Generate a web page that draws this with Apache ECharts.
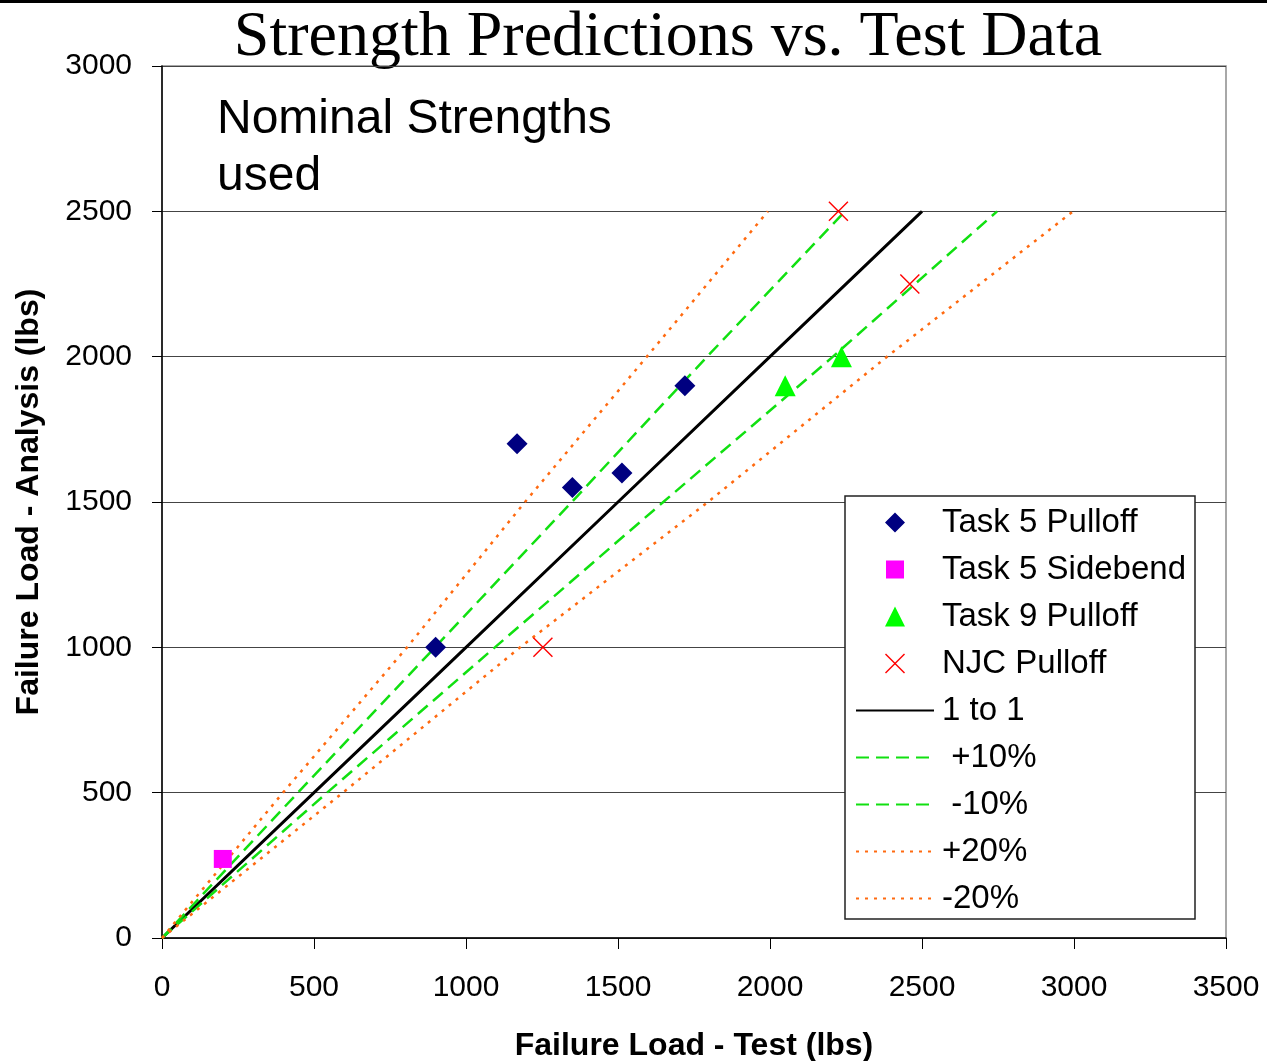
<!DOCTYPE html>
<html>
<head>
<meta charset="utf-8">
<style>
  html, body { margin: 0; padding: 0; background: #fff; }
  #chart { width: 1267px; height: 1061px; }
</style>
<script src="https://cdn.jsdelivr.net/npm/echarts@6/dist/echarts.min.js"></script>
</head>
<body>
<div id="chart"></div>
<script>
  // scatter data: [test, analysis]
  var task5Pulloff = [[900, 1000], [1168, 1700], [1350, 1550], [1513, 1600], [1720, 1900]];
  var task5Sidebend = [[200, 272]];
  var task9Pulloff = [[2050, 1900], [2235, 2000]];
  var njcPulloff = [[2225, 2500], [2460, 2250], [1253, 1000]];

  // reference lines, x read at each analysis level
  var lineY = [0, 500, 1000, 1500, 2000, 2500];
  var oneToOneX = [0, 500, 1000, 1500, 2000, 2500];
  var plus10X = [0, 447, 898, 1348, 1793, 2247];
  var minus10X = [0, 543, 1095, 1649, 2207, 2747];
  var plus20X = [0, 398, 806, 1194, 1595, 1993];
  var minus20X = [0, 595, 1178, 1796, 2385, 2997];

  var lineNames = ['1 to 1', ' +10%', ' -10%', '+20%', '-20%'];
  var markerNames = ['Task 5 Pulloff', 'Task 5 Sidebend', 'Task 9 Pulloff', 'NJC Pulloff'];

  function pairs(xs, ys) {
    return xs.map(function (x, i) { return [x, ys[i]]; });
  }

  var X_PATH = 'path://M0,1L1,0L20,19L19,20ZM19,0L20,1L1,20L0,19Z';
  var FONT = 'Arial, "Liberation Sans", sans-serif';

  // legend icons drawn in a 78x20 box so they are not stretched
  var CORNERS = 'M0,0L0.01,0L0,0.01Z M78,20L77.99,20L78,19.99Z ';
  var legendIcons = [
    'path://' + CORNERS + 'M29,10L39,0L49,10L39,20Z',
    'path://' + CORNERS + 'M30,1L48,1L48,19L30,19Z',
    'path://' + CORNERS + 'M39,0L49,20L29,20Z',
    'path://' + CORNERS + 'M29,1L30,0L49,19L48,20Z M48,0L49,1L30,20L29,19Z'
  ];

  var chart = echarts.init(document.getElementById('chart'));

  function lineSeries(name, xs, color, width, type) {
    return {
      name: name,
      type: 'line',
      data: pairs(xs, lineY),
      symbol: 'none',
      silent: true,
      z: 2,
      lineStyle: { color: color, width: width, type: type },
      itemStyle: { color: color }
    };
  }

  // legend: markers first, then lines without the dot
  var legendData = markerNames.map(function (n, i) { return { name: n, icon: legendIcons[i] }; }).concat(
    lineNames.map(function (n) {
      return { name: n, itemStyle: { color: 'rgba(0,0,0,0)', borderWidth: 0 } };
    })
  );

  var option = {
    animation: false,
    backgroundColor: '#fff',
    textStyle: { fontFamily: FONT },
    grid: {
      left: 162, right: 41, top: 66, bottom: 123,
      containLabel: false, outerBoundsMode: 'none',
      show: true, borderColor: '#8c8c8c', borderWidth: 1.5, backgroundColor: 'transparent'
    },
    xAxis: {
      type: 'value',
      min: 0, max: 3500, interval: 500,
      name: 'Failure Load - Test (lbs)',
      nameLocation: 'middle',
      nameGap: 92,
      nameTextStyle: { fontSize: 32, fontWeight: 'bold', color: '#000', fontFamily: FONT },
      axisLine: { show: true, onZero: false, lineStyle: { color: '#000', width: 1.5 } },
      axisTick: { show: true, inside: false, length: 11, lineStyle: { color: '#000' } },
      axisLabel: { fontSize: 30, color: '#000', margin: 35, formatter: function (v) { return String(v); } },
      splitLine: { show: false }
    },
    yAxis: {
      type: 'value',
      min: 0, max: 3000, interval: 500,
      name: 'Failure Load - Analysis (lbs)',
      nameLocation: 'middle',
      nameGap: 117,
      nameRotate: 90,
      nameTextStyle: { fontSize: 32, fontWeight: 'bold', color: '#000', fontFamily: FONT },
      axisLine: { show: true, onZero: false, lineStyle: { color: '#000', width: 1.5 } },
      axisTick: { show: true, inside: false, length: 10, lineStyle: { color: '#000' } },
      axisLabel: { fontSize: 30, color: '#000', margin: 30, formatter: function (v) { return String(v); } },
      splitLine: { show: true, lineStyle: { color: '#444', width: 1 } }
    },
    legend: {
      orient: 'vertical',
      left: 845, top: 496,
      data: legendData,
      backgroundColor: '#fff',
      borderColor: '#222', borderWidth: 1.5,
      padding: [10, 9, 4, 10],
      itemWidth: 78, itemHeight: 20, itemGap: 14,
      textStyle: { fontSize: 33, color: '#000', padding: [0, 0, 0, 3] },
      selectedMode: false
    },
    graphic: [
      { type: 'rect', shape: { x: 0, y: 0, width: 1267, height: 3 }, style: { fill: '#000' } },
      {
        type: 'text', x: 668, y: 38,
        style: {
          text: 'Strength Predictions vs. Test Data',
          font: '64px "Liberation Serif", "Times New Roman", serif',
          fill: '#000', align: 'center', verticalAlign: 'middle'
        }
      },
      {
        type: 'text', x: 217, y: 91,
        style: {
          text: 'Nominal Strengths\nused',
          font: '48px Arial, "Liberation Sans", sans-serif',
          lineHeight: 57,
          fill: '#000', align: 'left', verticalAlign: 'top'
        }
      }
    ],
    series: [
      lineSeries(lineNames[0], oneToOneX, '#000', 3, 'solid'),
      lineSeries(lineNames[1], plus10X, '#11e011', 2.5, [13, 7]),
      lineSeries(lineNames[2], minus10X, '#11e011', 2.5, [13, 7]),
      lineSeries(lineNames[3], plus20X, '#ff6a10', 2.5, [3, 6]),
      lineSeries(lineNames[4], minus20X, '#ff6a10', 2.5, [3, 6]),
      {
        name: markerNames[0], type: 'scatter', data: task5Pulloff,
        symbol: 'diamond', symbolSize: 21, z: 3,
        itemStyle: { color: '#000080', opacity: 1 }
      },
      {
        name: markerNames[1], type: 'scatter', data: task5Sidebend,
        symbol: 'rect', symbolSize: 18, z: 3,
        itemStyle: { color: '#ff00ff', opacity: 1 }
      },
      {
        name: markerNames[2], type: 'scatter', data: task9Pulloff,
        symbol: 'triangle', symbolSize: 21, z: 3,
        itemStyle: { color: '#00ff00', opacity: 1 }
      },
      {
        name: markerNames[3], type: 'scatter', data: njcPulloff,
        symbol: X_PATH, symbolSize: 20, z: 3,
        itemStyle: { color: '#ff0000', opacity: 1 }
      }
    ]
  };

  chart.setOption(option);
</script>
</body>
</html>
